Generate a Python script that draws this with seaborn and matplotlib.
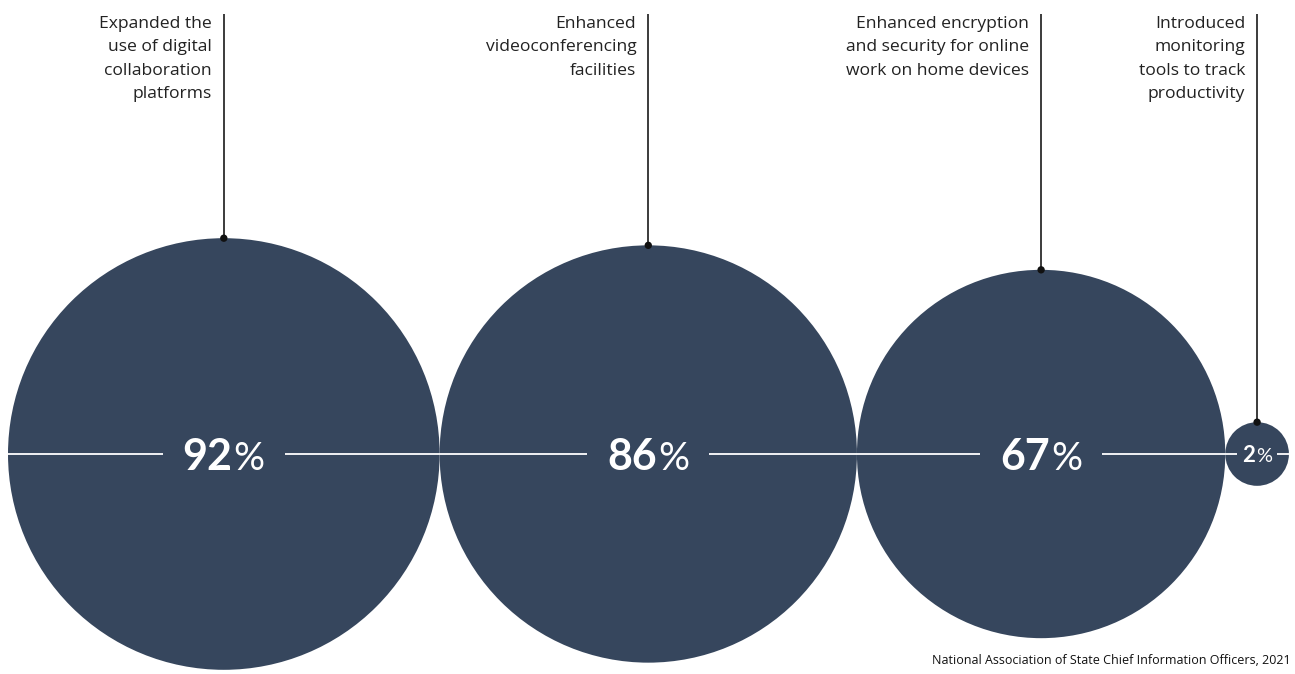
import numpy as np
import pandas as pd
import matplotlib
matplotlib.use("Agg")
import matplotlib.pyplot as plt
from matplotlib.patches import Circle
import seaborn as sns

# ---- data ----
labels = [
    "Expanded the\nuse of digital\ncollaboration\nplatforms",
    "Enhanced\nvideoconferencing\nfacilities",
    "Enhanced encryption\nand security for online\nwork on home devices",
    "Introduced\nmonitoring\ntools to track\nproductivity",
]
values = [92, 86, 67, 2]
value_text = ["92", "86", "67", "2"]
source = "National Association of State Chief Information Officers, 2021"

NAVY = "#36465d"
sns.set_theme(style="white")
plt.rcParams['font.family'] = ['Lato', 'DejaVu Sans']

W, H = 1295, 674
fig = plt.figure(figsize=(W / 100, H / 100), dpi=100)
ax = fig.add_axes([0, 0, 1, 1])

k = 22.5  # px per sqrt(percent) -> area proportional to value
radii = k * np.sqrt(np.array(values, dtype=float))
left = 8
cx = left + np.cumsum(2 * radii) - radii
cy = 454

for x, r in zip(cx, radii):
    ax.add_patch(Circle((x, cy), r, facecolor=NAVY, edgecolor="none", zorder=1))

# leader lines and dots
df = pd.DataFrame({"x": cx, "y": cy - radii})
ax.vlines(cx, 14, cy - radii, color="#1a1a1a", lw=1.2, zorder=3)
sns.scatterplot(data=df, x="x", y="y", s=28, color="#111111", edgecolor="none",
                zorder=4, ax=ax, legend=False)

# category labels
for x, lab in zip(cx, labels):
    ax.text(x - 12, 16, lab, ha="right", va="top", fontsize=12.6,
            family=["Open Sans", "DejaVu Sans"], fontweight="normal",
            linespacing=1.62, color="#222222")

ax.set_xlim(0, W)
ax.set_ylim(H, 0)
ax.axis("off")

# percentage labels, measured so they are centred
fig.canvas.draw()
renderer = fig.canvas.get_renderer()
segments = []
prev_end = left
for i, (x, r, num) in enumerate(zip(cx, radii, value_text)):
    big = values[i] > 10
    fs = 31 if big else 16
    gap = 20 if big else 5
    base = cy + 0.38 * fs * 100 / 72
    tn = ax.text(0, base, num, fontsize=fs, fontweight="bold", color="white",
                 ha="left", va="baseline", zorder=5)
    tp = ax.text(0, base, "%", fontsize=fs * 0.9, fontweight="normal", color="white",
                 ha="left", va="baseline", zorder=5)
    wn = tn.get_window_extent(renderer).width
    wp = tp.get_window_extent(renderer).width
    total = wn + 1 + wp
    start = x - total / 2
    tn.set_x(start)
    tp.set_x(start + wn + 1)
    segments.append((prev_end, start - gap))
    prev_end = start + total + gap
segments.append((prev_end, cx[-1] + radii[-1]))

for a, b in segments:
    ax.hlines(cy, a, b, color="white", lw=1.3, zorder=2)

ax.text(1291, 664, source, ha="right", va="baseline", fontsize=9,
        family=["Open Sans", "DejaVu Sans"], color="#111111")

fig.savefig("out.png", dpi=100, facecolor="white")
